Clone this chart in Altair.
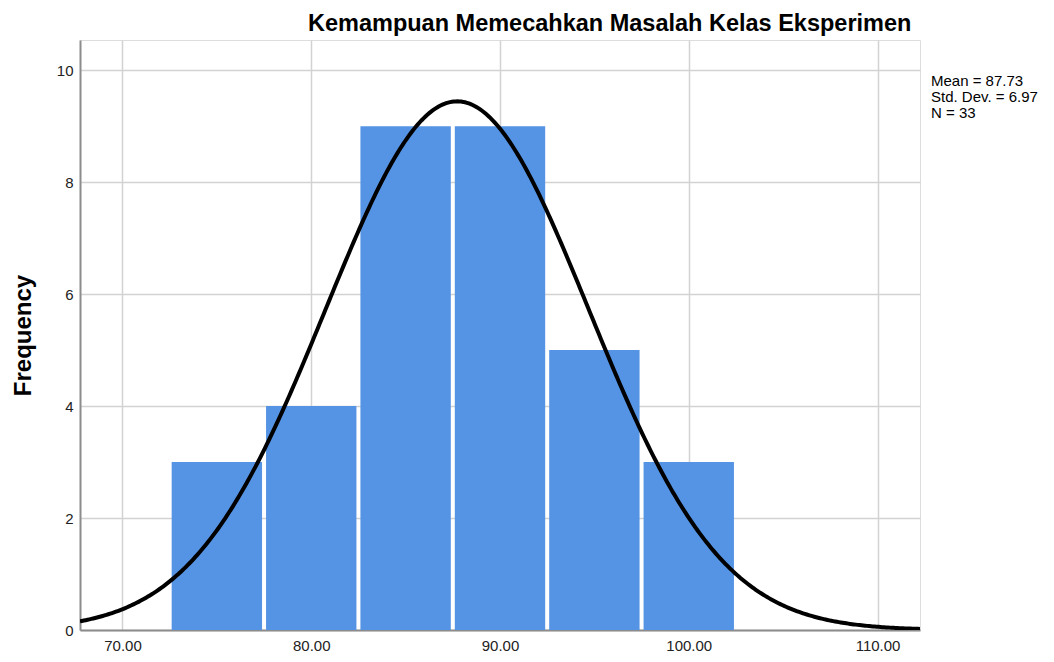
import altair as alt
import pandas as pd

# Histogram bins (lower edge) and counts
bin_starts = [72.5, 77.5, 82.5, 87.5, 92.5, 97.5]
bin_width = 5.0
counts = [3, 4, 9, 9, 5, 3]

# Summary statistics shown in the legend / used for the normal curve
mean = 87.73
std_dev = 6.97
n = 33

x_domain = [67.75, 112.25]
y_domain = [0, 10.54]
x_ticks = [70, 80, 90, 100, 110]
y_ticks = [0, 2, 4, 6, 8, 10]

title_text = "Kemampuan Memecahkan Masalah Kelas Eksperimen"

bars_df = pd.DataFrame({
    "start": bin_starts,
    "end": [s + bin_width for s in bin_starts],
    "count": counts,
})

FONT = "Liberation Sans"

x_scale = alt.Scale(domain=x_domain, nice=False, zero=False)
y_scale = alt.Scale(domain=y_domain, nice=False)

x_axis = alt.Axis(
    values=x_ticks, format=".2f", title=None, grid=True,
    gridColor="#d2d2d2", gridWidth=1.5, ticks=False,
    domainColor="#8c8c8c", domainWidth=2,
    labelFont=FONT, labelFontSize=15, labelColor="#222222", labelPadding=8,
)
y_axis = alt.Axis(
    values=y_ticks, format="d", title="Frequency", grid=True,
    gridColor="#d2d2d2", gridWidth=1.5, ticks=False,
    domainColor="#8c8c8c", domainWidth=2,
    labelFont=FONT, labelFontSize=15, labelColor="#222222", labelPadding=7,
    titleFont=FONT, titleFontSize=24, titleFontWeight="bold", titleColor="#000000",
    titleAngle=-90, titleX=-45, titleY=295, titleAlign="center", titleBaseline="bottom",
)

bars = alt.Chart(bars_df).mark_rect(
    color="#5594e4", xOffset=2, x2Offset=-2
).encode(
    x=alt.X("start:Q", scale=x_scale, axis=x_axis),
    x2="end:Q",
    y=alt.Y("count:Q", scale=y_scale, axis=y_axis),
    y2=alt.datum(0),
)

curve = alt.Chart(alt.sequence(x_domain[0], x_domain[1] + 0.05, 0.1, as_="x")).transform_calculate(
    y=f"{n} * {bin_width} / ({std_dev} * sqrt(2 * PI)) * exp(-0.5 * pow((datum.x - {mean}) / {std_dev}, 2))"
).mark_line(color="#000000", strokeWidth=4, clip=True).encode(
    x=alt.X("x:Q", scale=x_scale),
    y=alt.Y("y:Q", scale=y_scale),
)

legend_df = pd.DataFrame({
    "label": [f"Mean = {mean:.2f}\nStd. Dev. = {std_dev:.2f}\nN = {n}"]
})
legend = alt.Chart(legend_df).mark_text(
    align="left", baseline="top", font=FONT, fontSize=15, lineHeight=16,
    lineBreak="\n", color="#000000",
).encode(
    text="label:N",
    x=alt.value(851),
    y=alt.value(34),
)

chart = alt.layer(bars, curve, legend).properties(
    width=840,
    height=590,
    title=alt.Title(
        title_text, anchor="start", frame="group", dx=228, offset=5, font=FONT,
        fontSize=23.5, fontWeight="bold", color="#000000",
    ),
    padding={"left": 72, "top": 32, "right": 120, "bottom": 24},
    autosize=alt.AutoSizeParams(type="none"),
).configure_view(stroke=None).configure(background="white")

chart.save("out.html", embed_options={"renderer": "svg", "actions": False})
